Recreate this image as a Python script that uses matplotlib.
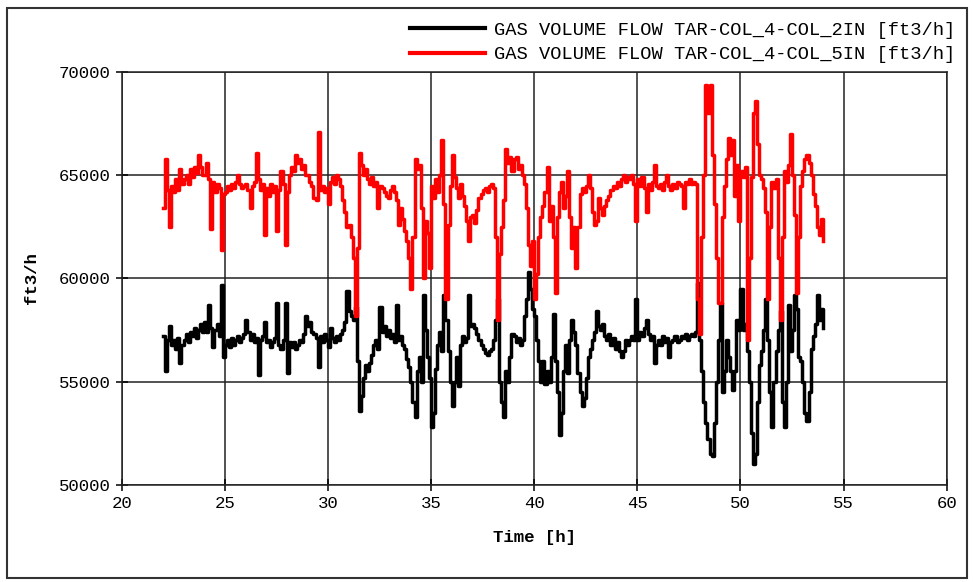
import numpy as np
import matplotlib
matplotlib.use('Agg')
import matplotlib.pyplot as plt
from matplotlib.patches import Rectangle

# time axis, one reading every 0.1 h from 22.0 h to 54.0 h
t_start, t_step = 22.0, 0.1

# GAS VOLUME FLOW TAR-COL_4-COL_2IN, thousands of ft3/h
col_2in = [
    57.2, 55.5, 57.0, 57.7, 56.8, 57.0, 56.6, 57.1, 55.9, 56.8,   # 22
    57.0, 57.3, 56.9, 57.4, 57.2, 57.6, 57.1, 57.5, 57.8, 57.4,   # 23
    57.9, 57.4, 58.7, 57.6, 56.7, 57.5, 57.8, 57.2, 59.7, 56.2,   # 24
    56.8, 57.0, 56.7, 57.1, 56.8, 57.0, 57.2, 56.9, 57.1, 57.3,   # 25
    58.0, 57.4, 57.0, 57.3, 56.9, 57.1, 55.3, 57.0, 57.2, 57.9,   # 26
    56.9, 57.0, 56.7, 56.9, 57.1, 58.8, 56.8, 56.6, 57.0, 58.8,   # 27
    55.4, 56.9, 56.7, 56.9, 56.6, 56.8, 57.0, 56.9, 57.3, 58.2,   # 28
    57.7, 57.9, 57.4, 57.3, 57.1, 55.7, 57.2, 56.9, 57.3, 57.0,   # 29
    56.7, 57.6, 57.1, 56.9, 57.2, 57.0, 57.3, 57.5, 57.9, 59.4,   # 30
    58.4, 58.2, 58.0, 58.6, 56.0, 53.6, 54.3, 55.2, 55.8, 55.5,   # 31
    55.9, 56.3, 56.8, 57.0, 56.6, 58.6, 57.4, 57.7, 57.2, 57.5,   # 32
    57.1, 57.3, 56.9, 58.7, 57.0, 57.2, 56.8, 56.6, 56.1, 55.7,   # 33
    55.0, 54.0, 53.3, 55.5, 56.2, 55.0, 59.2, 57.5, 56.2, 55.2,   # 34
    52.8, 53.5, 55.6, 56.8, 57.4, 56.5, 59.2, 58.0, 56.5, 55.0,   # 35
    53.8, 55.0, 56.2, 54.8, 56.8, 57.2, 56.9, 57.1, 59.2, 57.7,   # 36
    57.8, 57.6, 57.3, 57.0, 56.8, 56.6, 56.4, 56.3, 56.5, 56.6,   # 37
    57.0, 58.0, 59.0, 55.0, 54.0, 53.3, 55.5, 55.0, 56.2, 57.3,   # 38
    57.2, 56.9, 57.1, 56.8, 57.0, 58.2, 59.0, 60.3, 59.5, 58.5,   # 39
    58.2, 57.0, 56.0, 55.0, 56.0, 54.9, 55.5, 55.0, 56.2, 58.3,   # 40
    56.0, 54.5, 52.4, 53.5, 55.5, 56.8, 55.4, 57.0, 58.0, 57.4,   # 41
    56.8, 55.4, 54.5, 53.8, 54.2, 55.2, 56.2, 56.6, 57.0, 57.4,   # 42
    58.4, 57.7, 57.5, 57.8, 57.2, 57.0, 57.3, 56.8, 57.1, 56.6,   # 43
    56.9, 56.5, 56.2, 56.5, 57.0, 56.8, 57.0, 57.2, 57.0, 59.0,   # 44
    57.0, 57.4, 57.2, 57.6, 58.0, 57.3, 57.0, 57.2, 55.9, 56.8,   # 45
    57.0, 56.8, 57.2, 56.9, 57.1, 56.2, 56.9, 57.0, 57.2, 56.9,   # 46
    57.0, 57.2, 57.1, 57.3, 57.0, 57.2, 57.3, 57.2, 57.4, 59.8,   # 47
    57.0, 55.5, 54.0, 53.0, 52.2, 51.5, 51.4, 53.0, 55.0, 57.0,   # 48
    58.8, 54.5, 55.5, 57.0, 56.2, 55.5, 54.6, 55.5, 58.0, 57.5,   # 49
    59.5, 57.5, 57.8, 56.5, 55.0, 52.5, 51.0, 51.5, 54.0, 55.8,   # 50
    56.5, 57.5, 59.0, 57.0, 54.5, 52.8, 55.0, 56.5, 57.5, 58.4,   # 51
    54.0, 52.8, 55.0, 58.7, 56.5, 57.5, 59.2, 58.5, 56.2, 56.0,   # 52
    55.0, 53.5, 53.1, 54.5, 56.6, 57.2, 57.8, 59.2, 58.0, 58.5,   # 53
    57.6,
]

# GAS VOLUME FLOW TAR-COL_4-COL_5IN, thousands of ft3/h
col_5in = [
    63.4, 65.8, 64.3, 62.5, 64.5, 64.2, 64.8, 64.3, 65.3, 64.6,   # 22
    64.8, 65.0, 64.6, 65.3, 64.9, 65.4, 65.1, 66.0, 65.4, 65.0,   # 23
    65.0, 65.6, 64.8, 62.4, 64.7, 64.2, 64.6, 64.4, 61.4, 64.1,   # 24
    64.2, 64.5, 64.3, 64.6, 64.4, 64.7, 65.0, 64.6, 64.4, 64.5,   # 25
    64.6, 64.3, 63.4, 64.5, 64.7, 66.1, 64.8, 64.3, 64.6, 62.1,   # 26
    64.4, 64.0, 64.6, 64.2, 64.5, 62.3, 64.3, 65.2, 64.6, 61.6,   # 27
    64.2, 65.0, 65.4, 65.2, 66.0, 65.6, 65.8, 65.3, 65.5, 65.0,   # 28
    65.0, 64.7, 64.5, 63.9, 63.8, 67.1, 64.3, 64.5, 64.2, 64.4,   # 29
    63.6, 64.7, 64.9, 64.6, 65.0, 64.8, 64.5, 63.8, 63.2, 62.5,   # 30
    62.6, 62.0, 61.0, 58.2, 61.5, 66.1, 65.5, 65.0, 65.3, 64.8,   # 31
    64.6, 64.9, 64.5, 64.7, 63.4, 64.5, 64.4, 64.2, 64.0, 63.9,   # 32
    64.3, 64.5, 64.2, 63.8, 62.6, 63.4, 62.9, 62.3, 61.8, 61.0,   # 33
    59.5, 62.0, 65.8, 65.3, 65.5, 63.4, 60.0, 62.8, 62.2, 60.5,   # 34
    64.5, 63.9, 64.8, 64.2, 65.0, 66.7, 63.6, 59.0, 62.6, 64.5,   # 35
    66.0, 64.9, 64.4, 63.9, 64.6, 64.0, 63.5, 62.8, 61.8, 63.0,   # 36
    63.1, 62.7, 63.3, 63.9, 64.1, 64.3, 64.4, 64.2, 64.5, 64.6,   # 37
    64.4, 62.0, 58.0, 61.2, 62.5, 63.8, 66.3, 65.6, 65.9, 65.2,   # 38
    65.8, 65.9, 65.3, 65.5, 65.0, 64.6, 63.4, 61.6, 60.6, 61.8,   # 39
    59.0, 60.2, 62.0, 63.0, 63.5, 64.2, 65.4, 62.8, 63.5, 62.0,   # 40
    59.3, 63.0, 64.2, 64.7, 63.4, 64.0, 65.2, 63.0, 61.5, 62.5,   # 41
    60.5, 62.5, 64.1, 64.4, 64.2, 64.5, 65.0, 64.4, 63.2, 62.6,   # 42
    62.8, 63.9, 63.4, 63.1, 63.5, 63.8, 64.0, 64.3, 64.5, 64.4,   # 43
    64.7, 64.5, 64.8, 65.0, 64.7, 64.9, 64.8, 65.0, 64.6, 62.8,   # 44
    64.8, 64.5, 64.9, 64.4, 63.2, 64.6, 64.3, 64.7, 65.5, 64.5,   # 45
    64.4, 64.6, 64.3, 64.7, 65.0, 64.5, 64.3, 64.6, 64.4, 64.7,   # 46
    64.6, 64.5, 63.4, 64.7, 64.6, 64.8, 64.6, 64.7, 64.6, 59.0,   # 47
    57.3, 62.0, 65.0, 69.4, 68.0, 69.4, 66.0, 63.6, 61.0, 58.8,   # 48
    58.8, 63.0, 64.5, 65.8, 66.8, 66.0, 66.7, 64.0, 65.5, 62.8,   # 49
    65.2, 64.9, 65.4, 57.0, 61.0, 64.9, 68.0, 68.6, 66.5, 65.0,   # 50
    64.8, 64.4, 63.2, 59.0, 62.5, 64.7, 64.4, 64.8, 61.0, 58.0,   # 51
    62.0, 65.2, 64.7, 65.5, 67.0, 65.0, 63.1, 59.3, 62.0, 64.5,   # 52
    65.2, 65.8, 66.0, 65.6, 65.0, 64.1, 63.5, 62.5, 62.1, 62.9,   # 53
    61.8,
]

labels = ['GAS VOLUME FLOW TAR-COL_4-COL_2IN [ft3/h]',
          'GAS VOLUME FLOW TAR-COL_4-COL_5IN [ft3/h]']
xticks = [20, 25, 30, 35, 40, 45, 50, 55, 60]
yticks = [50000, 55000, 60000, 65000, 70000]

plt.rcParams['font.family'] = ['Liberation Mono', 'DejaVu Sans Mono']

time_h = t_start + t_step * np.arange(len(col_2in))
flow_2in = np.array(col_2in) * 1000
flow_5in = np.array(col_5in) * 1000

fig = plt.figure(figsize=(9.73, 5.82), dpi=100)
ax = fig.add_axes([0.125, 0.167, 0.848, 0.709])

ax.plot(time_h, flow_2in, color='black', lw=2.5, drawstyle='steps-post', label=labels[0])
ax.plot(time_h, flow_5in, color='#ff0000', lw=2.5, drawstyle='steps-post', label=labels[1])

ax.set_xlim(20, 60)
ax.set_ylim(50000, 70000)
ax.set_xticks(xticks)
ax.set_yticks(yticks)
ax.grid(True, color='#222222', lw=1.1)
ax.set_axisbelow(True)
for s in ax.spines.values():
    s.set_color('#222222')
    s.set_linewidth(1.1)
ax.tick_params(direction='inout', length=8, width=1.1, labelsize=12.5, pad=4)

ax.set_xlabel('Time [h]', fontsize=12.5, fontweight='bold', labelpad=14)
ax.set_ylabel('ft3/h', fontsize=12.5, fontweight='bold', labelpad=14)

fig.legend(loc='upper right', bbox_to_anchor=(0.982, 0.963), frameon=False,
           fontsize=13.5, handlelength=4.0, handletextpad=0.5, labelspacing=0.4,
           borderpad=0, borderaxespad=0)
for line in fig.legends[0].get_lines():
    line.set_linewidth(3)

fig.patches.append(Rectangle((0.007, 0.007), 0.987, 0.98, transform=fig.transFigure,
                             fill=False, edgecolor='#333333', lw=1.5))

fig.savefig('out.png', dpi=100, facecolor='white')
